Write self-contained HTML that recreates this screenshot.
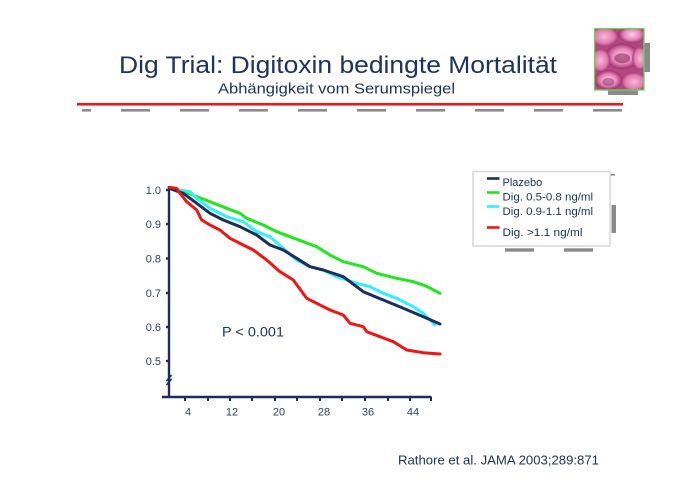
<!DOCTYPE html>
<html><head><meta charset="utf-8"><style>
html,body{margin:0;padding:0;background:#fff;}
svg{display:block;}
text{font-family:"Liberation Sans",Arial,sans-serif;}
</style></head><body>
<svg width="700" height="494" viewBox="0 0 700 494" xmlns="http://www.w3.org/2000/svg">
<defs>
<radialGradient id="p1" cx="0.5" cy="0.5" r="0.5"><stop offset="0" stop-color="#f6b8d8"/><stop offset="0.7" stop-color="#e07ab0"/><stop offset="1" stop-color="#a83a78"/></radialGradient>
<radialGradient id="p2" cx="0.5" cy="0.5" r="0.5"><stop offset="0" stop-color="#fbd0e6"/><stop offset="0.6" stop-color="#e585ba"/><stop offset="1" stop-color="#9c2f6c"/></radialGradient>
</defs>
<rect width="700" height="494" fill="#fff"/>
<!-- title -->
<text x="119" y="73" font-size="24.5" fill="#1c3460" textLength="438" lengthAdjust="spacingAndGlyphs">Dig Trial: Digitoxin bedingte Mortalität</text>
<text x="218" y="93.5" font-size="15" fill="#1c3460" textLength="237" lengthAdjust="spacingAndGlyphs">Abhängigkeit vom Serumspiegel</text>
<!-- red rule -->
<rect x="77" y="103" width="546" height="2.6" fill="#f01818"/>
<!-- gray dashes -->
<g fill="#8a8a8a">
<rect x="82" y="109" width="9" height="2.6"/>
<rect x="121" y="109" width="29" height="2.6"/>
<rect x="180" y="109" width="29" height="2.6"/>
<rect x="239" y="109" width="29" height="2.6"/>
<rect x="298" y="109" width="29" height="2.6"/>
<rect x="357" y="109" width="29" height="2.6"/>
<rect x="416" y="109" width="29" height="2.6"/>
<rect x="475" y="109" width="29" height="2.6"/>
<rect x="534" y="109" width="29" height="2.6"/>
<rect x="593" y="109" width="29" height="2.6"/>
</g>
<!-- foxglove picture -->
<rect x="644" y="43" width="6" height="29" fill="#8a8a8a"/>
<rect x="608" y="90" width="30" height="5" fill="#8a8a8a"/>
<svg x="594.5" y="28.5" width="49.5" height="61.5" viewBox="0 0 50 62">
<rect width="50" height="62" fill="#b24882"/>
<ellipse cx="10" cy="8" rx="14" ry="10" fill="url(#p1)"/>
<ellipse cx="38" cy="6" rx="14" ry="9" fill="url(#p2)"/>
<ellipse cx="28" cy="28" rx="17" ry="13" fill="url(#p2)"/>
<ellipse cx="6" cy="32" rx="10" ry="12" fill="url(#p1)"/>
<ellipse cx="46" cy="30" rx="8" ry="12" fill="url(#p1)"/>
<ellipse cx="14" cy="52" rx="14" ry="10" fill="url(#p2)"/>
<ellipse cx="40" cy="54" rx="13" ry="10" fill="url(#p1)"/>
<ellipse cx="28" cy="30" rx="8" ry="5" fill="#8e2a62" opacity="0.6"/>
<ellipse cx="14" cy="54" rx="6" ry="4" fill="#8e2a62" opacity="0.5"/>
</svg>
<rect x="594.5" y="28.5" width="49.5" height="61.5" fill="none" stroke="#5fdc4a" stroke-width="1.3"/>
<!-- legend -->
<rect x="610" y="174" width="5" height="1.6" fill="#8a8a8a"/>
<rect x="611.5" y="205" width="4.5" height="28" fill="#8a8a8a"/>
<rect x="505" y="248.3" width="29" height="3.4" fill="#8a8a8a"/>
<rect x="564" y="248.3" width="29" height="3.4" fill="#8a8a8a"/>
<rect x="473" y="171.5" width="137" height="74.5" fill="#fff" stroke="#d8d8d8" stroke-width="1.6"/>
<g stroke-width="2.6">
<line x1="487" y1="178.5" x2="499.5" y2="178.5" stroke="#1a2f5c"/>
<line x1="487" y1="192.5" x2="499.5" y2="192.5" stroke="#22e61e"/>
<line x1="487" y1="206.5" x2="499.5" y2="206.5" stroke="#30f0ff"/>
<line x1="487" y1="227.5" x2="499.5" y2="227.5" stroke="#f01515"/>
</g>
<g font-size="11" fill="#1c3460">
<text x="502.5" y="186">Plazebo</text>
<text x="502.5" y="200.5" textLength="90.5" lengthAdjust="spacingAndGlyphs">Dig. 0.5-0.8 ng/ml</text>
<text x="502.5" y="215" textLength="90.5" lengthAdjust="spacingAndGlyphs">Dig. 0.9-1.1 ng/ml</text>
<text x="502.5" y="236" textLength="80" lengthAdjust="spacingAndGlyphs">Dig. &gt;1.1 ng/ml</text>
</g>
<!-- axes -->
<g font-size="11" fill="#2a3f6a" text-anchor="end">
<text x="161" y="194">1.0</text>
<text x="161" y="228">0.9</text>
<text x="161" y="262.5">0.8</text>
<text x="161" y="297">0.7</text>
<text x="161" y="331">0.6</text>
<text x="161" y="365">0.5</text>
</g>
<g stroke="#1a2f5c" stroke-width="2.4" fill="none">
<line x1="169" y1="186" x2="169" y2="398"/>
<line x1="162" y1="397" x2="431.5" y2="397"/>
<line x1="166" y1="190" x2="169" y2="190"/>
<line x1="166" y1="224" x2="169" y2="224"/>
<line x1="166" y1="258.5" x2="169" y2="258.5"/>
<line x1="166" y1="293" x2="169" y2="293"/>
<line x1="166" y1="327" x2="169" y2="327"/>
<line x1="166" y1="361" x2="169" y2="361"/>
<g stroke-width="2">
<line x1="185" y1="397" x2="185" y2="401"/>
<line x1="208" y1="397" x2="208" y2="401"/>
<line x1="230" y1="397" x2="230" y2="401"/>
<line x1="252" y1="397" x2="252" y2="401"/>
<line x1="275" y1="397" x2="275" y2="401"/>
<line x1="297" y1="397" x2="297" y2="401"/>
<line x1="320" y1="397" x2="320" y2="401"/>
<line x1="342" y1="397" x2="342" y2="401"/>
<line x1="365" y1="397" x2="365" y2="401"/>
<line x1="388" y1="397" x2="388" y2="401"/>
<line x1="410" y1="397" x2="410" y2="401"/>
<line x1="431" y1="397" x2="431" y2="401"/>
</g>
<line x1="166.5" y1="381" x2="171.5" y2="375" stroke-width="1.6"/>
<line x1="166.5" y1="385" x2="171.5" y2="379" stroke-width="1.6"/>
</g>
<g font-size="11" fill="#2a3f6a" text-anchor="middle">
<text x="188" y="415.5">4</text>
<text x="232" y="415.5">12</text>
<text x="279" y="415.5">20</text>
<text x="324" y="415.5">28</text>
<text x="368" y="415.5">36</text>
<text x="413" y="415.5">44</text>
</g>
<text x="222" y="336.5" font-size="14" fill="#1c3460" textLength="62" lengthAdjust="spacingAndGlyphs">P &lt; 0.001</text>
<!-- curves -->
<g fill="none" stroke-width="3" stroke-linejoin="round" stroke-linecap="round">
<polyline stroke="#22e61e" points="169.3,188.3 185,191.7 196.7,196.7 210,201.7 226.7,208.3 240,213.3 246.7,218.3 263.3,225 276.7,231.7 290,236.7 303.3,241.7 316.7,246.7 330,255 343.3,261.7 363.3,266.7 376.7,273.3 396.7,278.3 413.3,281.7 426,286 440,293.3"/>
<polyline stroke="#30f0ff" points="169.3,188.3 190,191.7 196.7,198.3 210,208.3 226.7,216.7 243.3,221.7 256.7,231.7 270,236.7 283.3,248.3 296.7,260 310,266.7 323.3,270 336.7,276.7 356.7,283.3 370,286.7 383.3,293.3 396.7,298.3 413.3,306.7 423.3,313.3 435,325"/>
<polyline stroke="#1a2f5c" points="169.3,188.3 183.3,193.3 196.7,203.3 210,213.3 223.3,220 240,226.7 256.7,235 270,245 283.3,250 296.7,258.3 310,266.7 323.3,270 343.3,276.7 363.3,291.7 383.3,300 403.3,308.3 423.3,316.7 440,324"/>
<polyline stroke="#f01515" points="169.3,187.3 176.7,188.3 180,193.3 186.7,201.7 196.7,210 201.7,220 210,225 220,230 230,238.3 243.3,245 253.3,250 266.7,260 280,271.7 293.3,280 306.7,298.3 316.7,303.3 330,310 343.3,315 350,323.3 363.3,326.7 366.7,331.7 380,336.7 393.3,341.7 406.7,350 423.3,352.7 440,354"/>
</g>
<text x="398" y="464.5" font-size="13" fill="#1c3460" textLength="201" lengthAdjust="spacingAndGlyphs">Rathore et al. JAMA 2003;289:871</text>
</svg>
</body></html>
